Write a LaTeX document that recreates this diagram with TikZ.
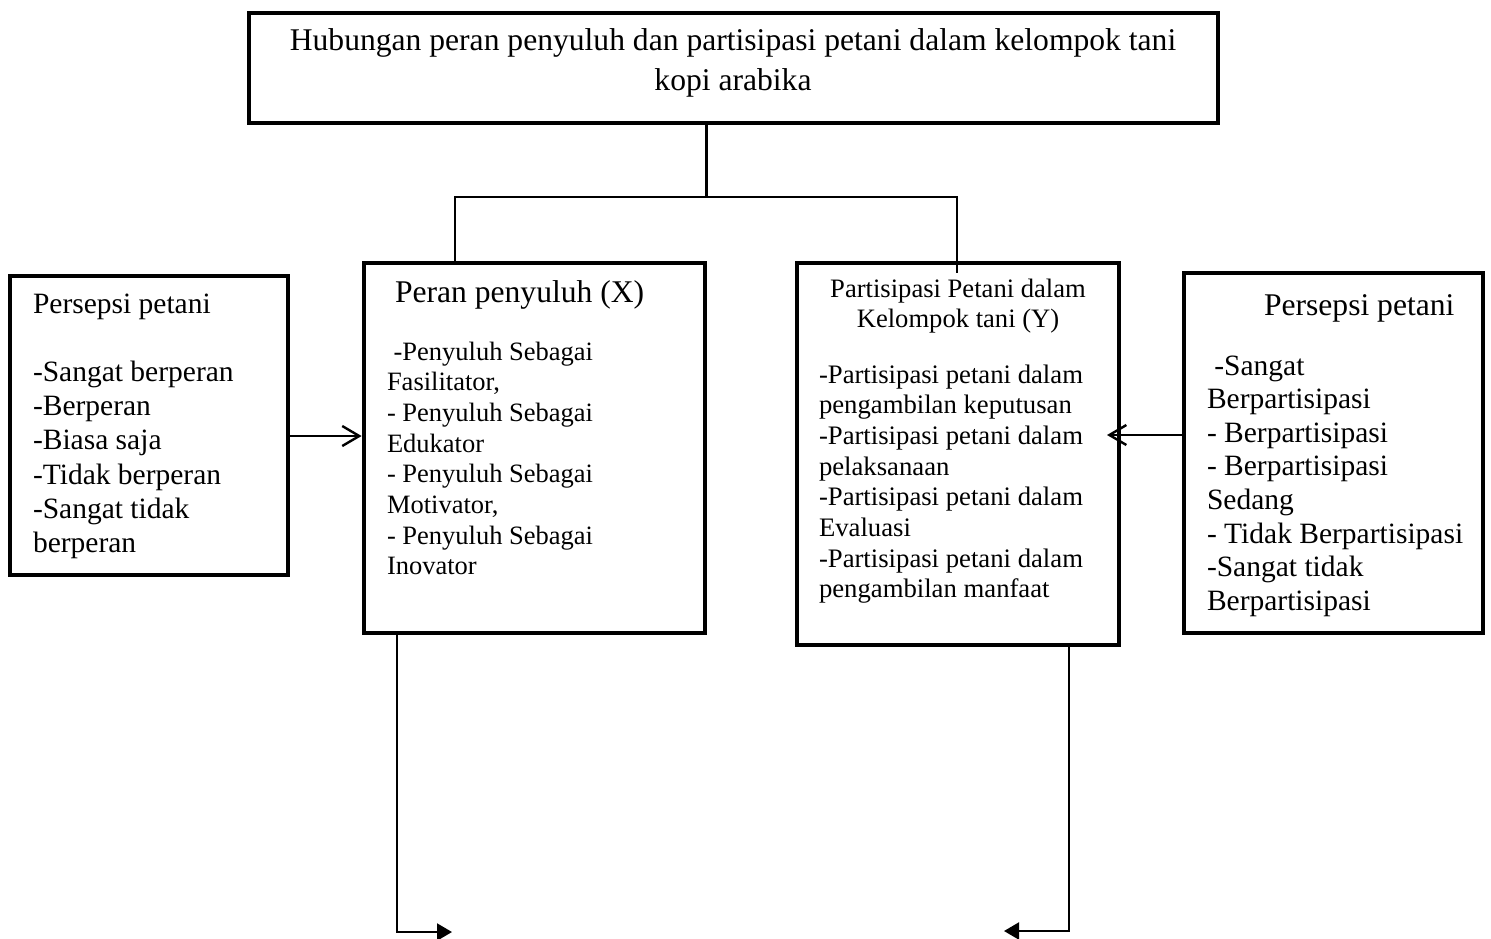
\documentclass[tikz,border=0pt]{standalone}
\usepackage{fontspec}
\setmainfont{Liberation Serif}
\usetikzlibrary{arrows.meta}
\begin{document}
\begin{tikzpicture}[x=0.5pt,y=-0.5pt,
  box/.style={draw=black,line width=2.4pt,rectangle,inner sep=0pt,fill=none},
  txt/.style={inner sep=0pt,outer sep=0pt},
  conn/.style={draw=black,line width=1.1pt},
  openarrow/.style={conn,line width=1.2pt,-{Straight Barb[length=8.5pt,width=10pt,line width=1.2pt]}},
  fillarrow/.style={conn,-{Triangle[length=7.5pt,width=8.5pt]}}]
\useasboundingbox (0,0) rectangle (1491,938);
\fill[white] (0,0) rectangle (1491,938);
% boxes
\node[box,minimum width=969*0.5pt,minimum height=110*0.5pt] (top) at (733.5,68) {};
\node[box,minimum width=278*0.5pt,minimum height=299*0.5pt] (left) at (149,425.5) {};
\node[box,minimum width=341*0.5pt,minimum height=370*0.5pt] (xbox) at (534.5,448) {};
\node[box,minimum width=322*0.5pt,minimum height=382*0.5pt] (ybox) at (958,454) {};
\node[box,minimum width=299*0.5pt,minimum height=360*0.5pt] (right) at (1333.5,453) {};
% texts
\node[txt,anchor=base] (title) at (733,50) {\fontsize{15.8}{20}\selectfont\begin{tabular}[t]{@{}c@{}}Hubungan peran penyuluh dan partisipasi petani dalam kelompok tani\\ kopi arabika\end{tabular}};
\node[txt,anchor=base west] (lefttext) at (33,313) {\fontsize{14.75}{17.1}\selectfont\begin{tabular}[t]{@{}l@{}}Persepsi petani\\ \\ -Sangat berperan\\ -Berperan\\ -Biasa saja\\ -Tidak berperan\\ -Sangat tidak\\ berperan\end{tabular}};
\node[txt,anchor=base west] (xtitle) at (395,302) {\fontsize{15.8}{19}\selectfont Peran penyuluh (X)};
\node[txt,anchor=base west] (xbody) at (387,360) {\fontsize{13.25}{15.35}\selectfont\begin{tabular}[t]{@{}l@{}}\ -Penyuluh Sebagai\\ Fasilitator,\\ - Penyuluh Sebagai\\ Edukator\\ - Penyuluh Sebagai\\ Motivator,\\ - Penyuluh Sebagai\\ Inovator\end{tabular}};
\node[txt,anchor=base] (ytitle) at (958,297) {\fontsize{13.3}{15}\selectfont\begin{tabular}[t]{@{}c@{}}Partisipasi Petani dalam\\ Kelompok tani (Y)\end{tabular}};
\node[txt,anchor=base west] (ybody) at (819,383) {\fontsize{13.35}{15.35}\selectfont\begin{tabular}[t]{@{}l@{}}-Partisipasi petani dalam\\ pengambilan keputusan\\ -Partisipasi petani dalam\\ pelaksanaan\\ -Partisipasi petani dalam\\ Evaluasi\\ -Partisipasi petani dalam\\ pengambilan manfaat\end{tabular}};
\node[txt,anchor=base west] (rtitle) at (1264,315) {\fontsize{15.8}{19}\selectfont Persepsi petani};
\node[txt,anchor=base west] (rbody) at (1207,375) {\fontsize{14.75}{16.8}\selectfont\begin{tabular}[t]{@{}l@{}}\ -Sangat\\ Berpartisipasi\\ - Berpartisipasi\\ - Berpartisipasi\\ Sedang\\ - Tidak Berpartisipasi\\ -Sangat tidak\\ Berpartisipasi\end{tabular}};
% connectors
\coordinate (jc) at (706,197);
\coordinate (jl) at (455,197);
\coordinate (jr) at (957,197);
\coordinate (ydrop) at (957,273);
\draw[conn,line width=1.5pt] (top.south -| jc) -- (jc);
\draw[conn] (jl |- xbox.north) -- (jl) -- (jr) -- (ydrop);
\draw[openarrow] (left.east |- 0,436) -- (xbox.west |- 0,436);
\coordinate (rtip) at (1107,435);
\draw[openarrow] (right.west |- rtip) -- (rtip);
\coordinate (bl) at (397,932);
\coordinate (blend) at (452,932);
\draw[fillarrow] (xbox.south -| bl) -- (bl) -- (blend);
\coordinate (br) at (1069,931);
\coordinate (brend) at (1004,931);
\draw[fillarrow] (ybox.south -| br) -- (br) -- (brend);
\end{tikzpicture}
\end{document}
